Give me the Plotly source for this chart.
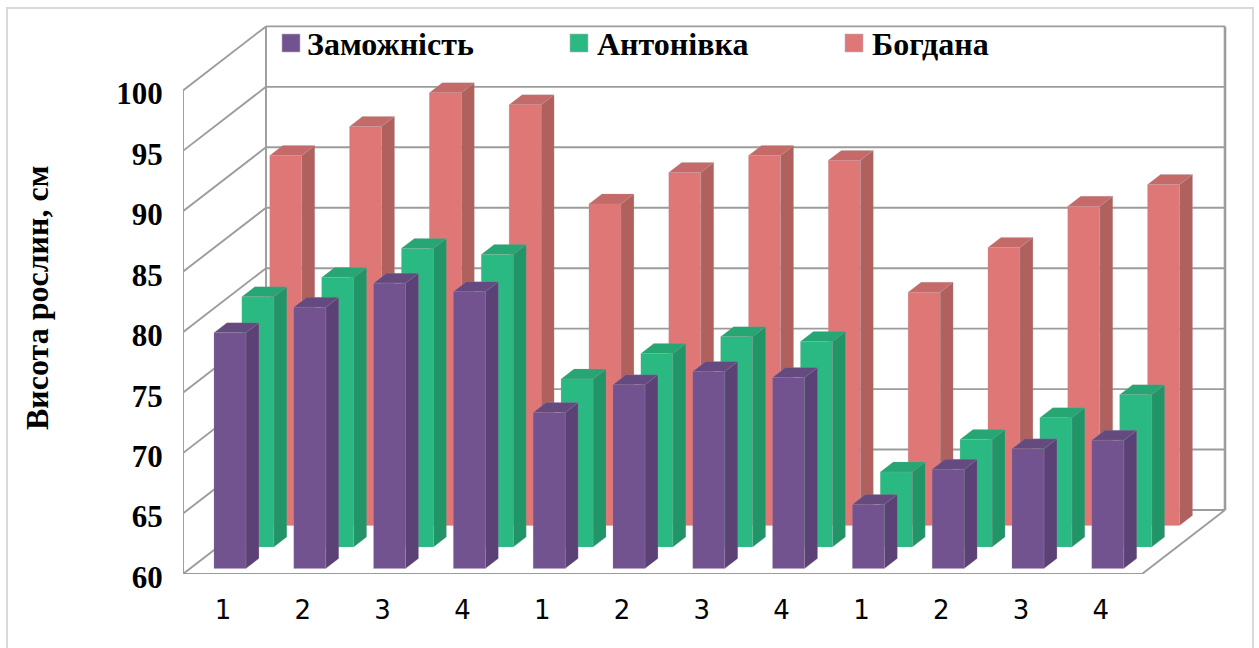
import plotly.graph_objects as go

# ---------- data ----------
series_names = ["Заможність", "Антонівка", "Богдана"]
categories = ["1", "2", "3", "4", "1", "2", "3", "4", "1", "2", "3", "4"]
zamozhnist = [79.5, 81.6, 83.6, 82.9, 72.9, 75.2, 76.3, 75.8, 65.3, 68.2, 69.9, 70.6]
antonivka = [80.7, 82.3, 84.7, 84.2, 73.9, 76.0, 77.4, 77.0, 66.2, 68.9, 70.7, 72.6]
bohdana = [90.6, 93.0, 95.8, 94.8, 86.6, 89.2, 90.6, 90.2, 79.3, 83.0, 86.4, 88.2]
y_ticks = [60, 65, 70, 75, 80, 85, 90, 95, 100]
axis_title = "Висота рослин, см"

# ---------- styles / layout constants ----------
W, H = 1259, 648
LEFT, BOTTOM = 183.0, 574.0          # pixel of the front-left floor corner
PX_CAT, PX_UNIT = 79.8, 12.09        # pixels per category / per value unit
CAT0_PX = 223.0                      # pixel of category 0 tick
DEPTH_PX = (83.0, 64.0)              # oblique shift for full depth
BAR_W, BAR_D = 0.401, 0.156
BAR_OFF = -0.2025
SERIES_DEPTH = [0.086, 0.422, 0.758]
N = len(categories)
FRONT_RIGHT_CAT = (1142.0 - CAT0_PX) / PX_CAT
GRID = "#9C9C9C"
COLORS = [
    dict(front="#72528F", side="#5C4176", top="#654A80"),
    dict(front="#2AB982", side="#219567", top="#25A673"),
    dict(front="#DE7775", side="#B0605D", top="#C46A68"),
]
LEGEND_PX = [(291, 43), (579, 43), (854, 43)]
LEGEND_TEXT_PX = [306, 596, 871]
SERIF = "Liberation Serif"


def proj(cat, depth, value):
    """Oblique projection of (category, depth, value) into the axis units."""
    return (cat + depth * DEPTH_PX[0] / PX_CAT, value + depth * DEPTH_PX[1] / PX_UNIT)


def poly(points):
    xs, ys = zip(*[proj(*p) for p in points])
    return list(xs) + [xs[0], None], list(ys) + [ys[0], None]


fig = go.Figure()


def line_trace(segments, width=1.9):
    xs, ys = [], []
    for a, b in segments:
        p, q = proj(*a), proj(*b)
        xs += [p[0], q[0], None]
        ys += [p[1], q[1], None]
    fig.add_trace(go.Scatter(x=xs, y=ys, mode="lines", showlegend=False, hoverinfo="skip",
                             line=dict(color=GRID, width=width)))


# walls and floor
left_c = (LEFT - CAT0_PX) / PX_CAT
right_c = FRONT_RIGHT_CAT
ymin, ymax = y_ticks[0], y_ticks[-1]
segs = []
for t in y_ticks:
    segs.append(((left_c, 0, t), (left_c, 1, t)))
    segs.append(((left_c, 1, t), (right_c, 1, t)))
segs.append(((left_c, 1, ymin), (left_c, 1, ymax)))
segs.append(((right_c, 0, ymin), (right_c, 1, ymin)))
segs.append(((left_c, 0, ymin), (right_c, 0, ymin)))
segs.append(((left_c, 0, ymin), (left_c, 0, ymax)))
line_trace(segs)
line_trace([((right_c, 1, ymin), (right_c, 1, ymax))], width=2.6)

# bars, back series first
all_series = [zamozhnist, antonivka, bohdana]
for s in [2, 1, 0]:
    d = SERIES_DEPTH[s]
    front, side, top = ([], []), ([], []), ([], [])
    for i, v in enumerate(all_series[s]):
        a, b = i + BAR_OFF, i + BAR_OFF + BAR_W
        e = d + BAR_D
        for store, pts in (
            (front, [(a, d, ymin), (b, d, ymin), (b, d, v), (a, d, v)]),
            (side, [(b, d, ymin), (b, e, ymin), (b, e, v), (b, d, v)]),
            (top, [(a, d, v), (b, d, v), (b, e, v), (a, e, v)]),
        ):
            xs, ys = poly(pts)
            store[0].extend(xs)
            store[1].extend(ys)
    for store, key in ((side, "side"), (top, "top"), (front, "front")):
        fig.add_trace(go.Scatter(
            x=store[0], y=store[1], mode="lines", fill="toself", name=series_names[s],
            fillcolor=COLORS[s][key], showlegend=False, hoverinfo="skip",
            line=dict(color="rgba(170,160,170,0.3)", width=0.7)))


def px_x(p):
    return (p - CAT0_PX) / PX_CAT


def px_y(p):
    return ymin + (BOTTOM - p) / PX_UNIT


# legend drawn on the chart
annotations = []
for s, (lx, ly) in enumerate(LEGEND_PX):
    fig.add_trace(go.Scatter(
        x=[px_x(lx)], y=[px_y(ly)], mode="markers", name=series_names[s],
        showlegend=False, hoverinfo="skip",
        marker=dict(symbol="square", size=18, color=COLORS[s]["front"],
                    line=dict(color="#B9B2C0", width=0.6))))
    annotations.append(dict(
        text="<b>%s</b>" % series_names[s], x=px_x(LEGEND_TEXT_PX[s]), y=px_y(44),
        xref="x", yref="y", xanchor="left", yanchor="middle", showarrow=False, borderpad=0,
        font=dict(family=SERIF, size=32, color="#000000")))
annotations.append(dict(
    text="<b>%s</b>" % axis_title, textangle=-90, showarrow=False,
    xref="paper", yref="paper", xanchor="center", yanchor="middle",
    x=(37 - LEFT) / (W - LEFT), y=(BOTTOM - 298) / BOTTOM,
    font=dict(family=SERIF, size=32, color="#000000")))

fig.update_layout(
    width=W, height=H, autosize=False,
    margin=dict(l=LEFT, r=0, t=0, b=H - BOTTOM, pad=0),
    paper_bgcolor="white", plot_bgcolor="white", showlegend=False,
    xaxis=dict(
        range=[px_x(LEFT), px_x(W)], tickmode="array", tickvals=list(range(N)),
        ticktext=categories, showgrid=False, zeroline=False, showline=False,
        ticks="outside", ticklen=13, tickcolor="rgba(0,0,0,0)",
        tickfont=dict(family="DejaVu Sans", size=26, color="#000000"), fixedrange=True),
    yaxis=dict(
        range=[ymin, px_y(0)], tickmode="array", tickvals=y_ticks,
        ticktext=[str(t) for t in y_ticks], showgrid=False, zeroline=False, showline=False,
        ticks="outside", ticklen=13, tickcolor="rgba(0,0,0,0)", ticklabelshift=3,
        tickfont=dict(family=SERIF, size=31, color="#000000", weight="bold"), fixedrange=True),
    annotations=annotations,
    shapes=[dict(
        type="rect", xref="paper", yref="paper", layer="below",
        x0=(7 - LEFT) / (W - LEFT), x1=(1253 - LEFT) / (W - LEFT),
        y0=(BOTTOM - 660) / BOTTOM, y1=(BOTTOM - 8) / BOTTOM,
        line=dict(color="#D9D9D9", width=2), fillcolor="rgba(0,0,0,0)")],
)

fig.write_html("out.html", config={"displayModeBar": False},
               post_script="document.body.style.margin='0';document.documentElement.style.overflow='hidden';")
